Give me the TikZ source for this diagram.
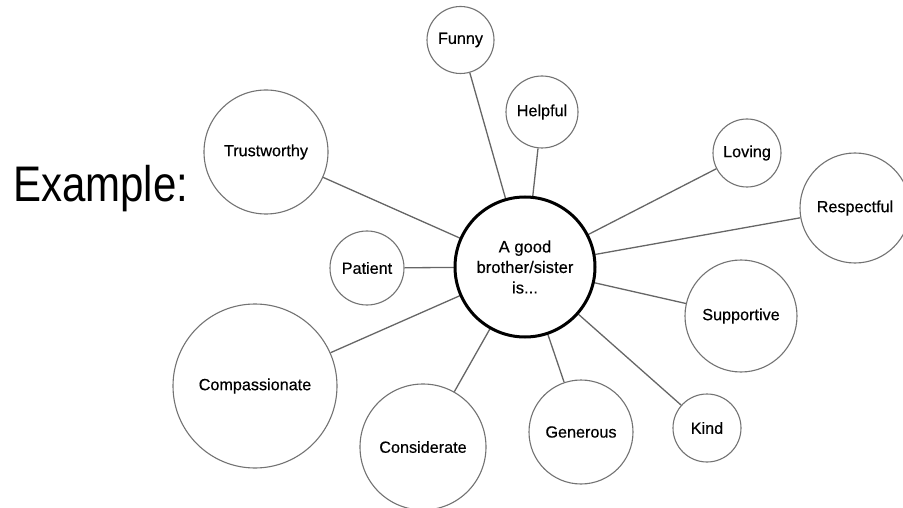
\documentclass[tikz,border=0pt]{standalone}
\usepackage{fontspec}
\setmainfont{Liberation Sans}
\newfontfamily\lblfont{Liberation Sans}[FakeBold=0.4]
\begin{document}
\begin{tikzpicture}[x=1pt,y=-1pt,
  bubble/.style={circle,draw=black!55,line width=1.1pt,fill=white,inner sep=0pt,
    font=\lblfont\fontsize{16.2}{18}\selectfont,minimum size=#1},
  hub/.style={circle,draw=black,line width=3pt,fill=white,inner sep=0pt,
    minimum size=140pt,align=center,font=\lblfont\fontsize{16.6}{20.5}\selectfont},
  link/.style={draw=black!60,line width=1.3pt}]
\useasboundingbox (0,0) rectangle (903,508);
\node[anchor=base west,inner sep=0pt,font=\fontsize{50}{50}\selectfont] (ex) at (13,202) {\scalebox{0.84}[1]{Example:}};
\coordinate (c) at (525,267);
\node[bubble=67pt]  (funny)   at (460.5,40)  {Funny};
\node[bubble=72pt]  (helpful) at (542,112)   {Helpful};
\node[bubble=68pt]  (loving)  at (747,153)   {Loving};
\node[bubble=110pt] (resp)    at (855,208)   {Respectful};
\node[bubble=112pt] (supp)    at (741,316)   {Supportive};
\node[bubble=68pt]  (kind)    at (707,428)   {Kind};
\node[bubble=104pt] (gen)     at (581,432)   {Generous};
\node[bubble=126pt] (cons)    at (423,447)   {Considerate};
\node[bubble=164pt] (comp)    at (255,386)   {Compassionate};
\node[bubble=74pt]  (pat)     at (367,268)   {Patient};
\node[bubble=124pt] (trust)   at (266,152)   {Trustworthy};
\foreach \n in {funny,helpful,loving,resp,supp,kind,gen,cons,comp,pat,trust}
  \path[link] (c) -- (\n);
\node[hub] (hub) at (c) {A good\\brother/sister\\is...};
\end{tikzpicture}
\end{document}
